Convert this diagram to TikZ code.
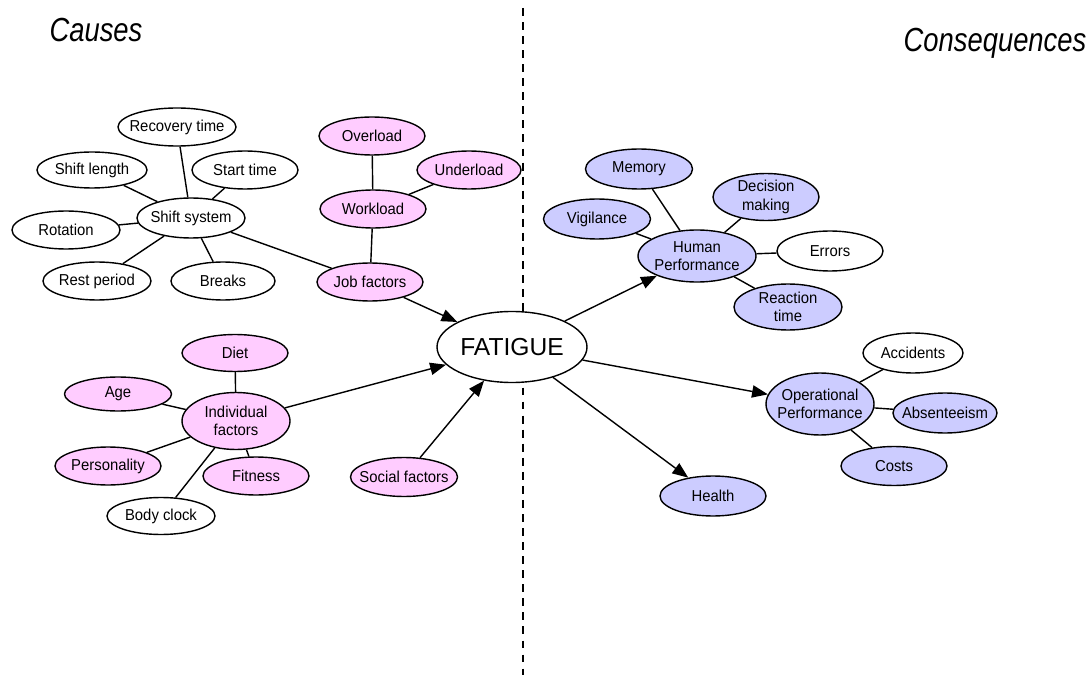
\documentclass[tikz,border=0pt]{standalone}
\usepackage{fontspec}
\setmainfont{Liberation Sans}
\newfontfamily\titlefont[FakeStretch=0.82]{Liberation Sans}
\newfontfamily\nodefont[FakeStretch=0.94]{Liberation Sans}
\usetikzlibrary{shapes.geometric,arrows.meta}
\definecolor{mypink}{RGB}{255,204,255}
\definecolor{myblue}{RGB}{204,204,255}

\tikzset{
  bubble/.style={ellipse, draw, line width=0.8pt, inner sep=0pt,
    minimum width=2.14cm, minimum height=0.76cm},
  txt/.style={align=center, inner sep=0pt, font=\nodefont\fontsize{9}{10.5}\selectfont},
  tx/.style={label={[txt]center:{#1}}},
  causestyle/.style={bubble, fill=mypink},
  effectstyle/.style={bubble, fill=myblue},
  plainstyle/.style={bubble, fill=white},
  sz/.style 2 args={minimum width=#1*0.02cm, minimum height=#2*0.02cm},
  link/.style={line width=0.8pt},
  flow/.style={line width=0.8pt, -{Triangle[length=9pt,width=7pt]}},
  heading/.style={font=\titlefont\itshape\fontsize{19}{22}\selectfont, anchor=base, inner sep=0pt}
}

\begin{document}
\begin{tikzpicture}[x=0.02cm, y=-0.02cm]
\useasboundingbox (0,0) rectangle (1091,675);

% headings and divider
\node[heading] (causes) at (96,42) {Causes};
\node[heading] (conseq) at (995,52) {Consequences};
\coordinate (divtop) at (523,8);
\coordinate (divbot) at (523,675);
\draw[line width=0.7pt, dash pattern=on 4.5pt off 3.5pt] (divtop) -- (divbot);

% centre
\node[plainstyle, sz={150}{71}, font=\fontsize{14}{16}\selectfont] (fatigue) at (512,347) {FATIGUE};

% shift system
\node[plainstyle, sz={118}{38}, tx={Recovery time}] (recov) at (177,127) {};
\node[plainstyle, sz={110}{36}, tx={Shift length}] (slength) at (92,170) {};
\node[plainstyle, sz={106}{38}, tx={Start time}] (start) at (245,170) {};
\node[plainstyle, sz={108}{40}, tx={Shift system}] (shift) at (191,218) {};
\node[plainstyle, sz={108}{38}, tx={Rotation}] (rotation) at (66,230) {};
\node[plainstyle, sz={108}{38}, tx={Rest period}] (rest) at (97,281) {};
\node[plainstyle, sz={104}{38}, tx={Breaks}] (breaks) at (223,281) {};

% job factors
\node[causestyle, sz={106}{38}, tx={Overload}] (overload) at (372,136) {};
\node[causestyle, sz={104}{38}, tx={Underload}] (underload) at (469,170) {};
\node[causestyle, sz={106}{38}, tx={Workload}] (workload) at (373,209) {};
\node[causestyle, sz={106}{38}, tx={Job factors}] (job) at (370,282) {};

% individual factors
\node[causestyle, sz={106}{37}, tx={Diet}] (diet) at (235,353) {};
\node[causestyle, sz={107}{34}, tx={Age}] (age) at (118,394) {};
\node[causestyle, sz={108}{57}, tx={Individual\\factors}] (indiv) at (236,421) {};
\node[causestyle, sz={106}{38}, tx={Personality}] (person) at (108,466) {};
\node[causestyle, sz={106}{38}, tx={Fitness}] (fitness) at (256,476) {};
\node[plainstyle, sz={108}{37}, tx={Body clock}] (body) at (161,516) {};
\node[causestyle, sz={107}{39}, tx={Social factors}] (social) at (404,477) {};

% human performance
\node[effectstyle, sz={107}{40}, tx={Memory}] (memory) at (639,169) {};
\node[effectstyle, sz={107}{40}, tx={Vigilance}] (vigil) at (597,219) {};
\node[effectstyle, sz={106}{47}, tx={Decision\\making}] (decision) at (766,197) {};
\node[effectstyle, sz={118}{52}, tx={Human\\Performance}] (human) at (697,256) {};
\node[plainstyle, sz={106}{40}, tx={Errors}] (errors) at (830,251) {};
\node[effectstyle, sz={108}{46}, tx={Reaction\\time}] (reaction) at (788,307) {};

% operational performance
\node[effectstyle, sz={108}{62}, tx={Operational\\Performance}] (oper) at (820,404) {};
\node[plainstyle, sz={100}{40}, tx={Accidents}] (accid) at (913,353) {};
\node[effectstyle, sz={104}{40}, tx={Absenteeism}] (absent) at (945,413) {};
\node[effectstyle, sz={106}{39}, tx={Costs}] (costs) at (894,466) {};
\node[effectstyle, sz={106}{40}, tx={Health}] (health) at (713,496) {};

% links
\foreach \n in {recov,slength,start,rotation,rest,breaks}
  \draw[link] (shift) -- (\n);
\draw[link] (shift) -- (job);
\foreach \n in {overload,underload,job}
  \draw[link] (workload) -- (\n);
\foreach \n in {diet,age,person,fitness,body}
  \draw[link] (indiv) -- (\n);
\foreach \n in {memory,vigil,decision,errors,reaction}
  \draw[link] (human) -- (\n);
\foreach \n in {accid,absent,costs}
  \draw[link] (oper) -- (\n);

% arrows
\foreach \n in {job,indiv,social}
  \draw[flow] (\n) -- (fatigue);
\foreach \n in {human,oper,health}
  \draw[flow] (fatigue) -- (\n);
\end{tikzpicture}
\end{document}
